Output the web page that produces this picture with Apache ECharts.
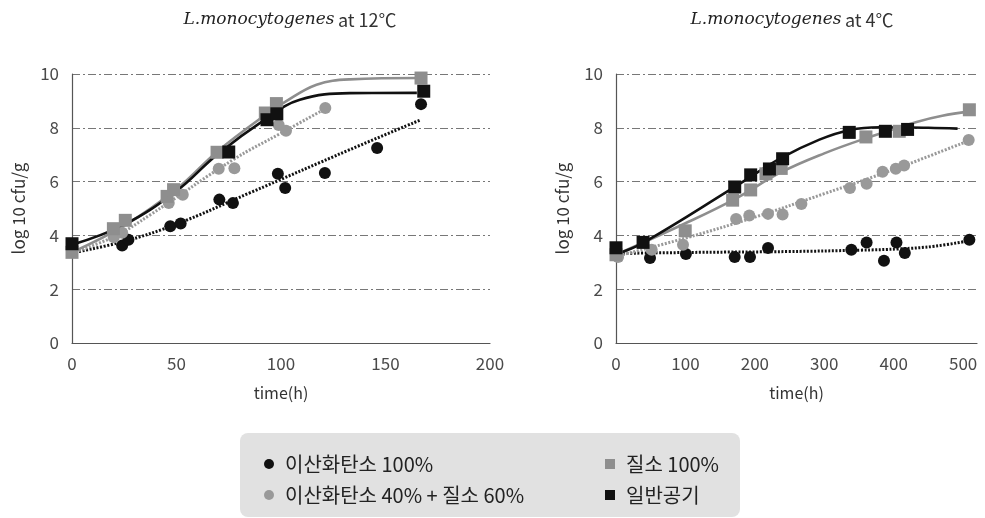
<!DOCTYPE html>
<html><head><meta charset="utf-8">
<script src="https://cdn.jsdelivr.net/npm/echarts@6/dist/echarts.min.js"></script>
<style>html,body{margin:0;padding:0;background:#fff}#c{width:985px;height:518px}</style>
</head><body><div id="c"></div><script>
// legend / series names
const nameCO2 = '이산화탄소 100%';
const nameMix = '이산화탄소 40% + 질소 60%';
const nameN2 = '질소 100%';
const nameAir = '일반공기';

// ---- 12 °C : measured points ----
const co2_12_t = [24, 27, 47, 52, 70.5, 77, 98.5, 102, 121, 146, 167];
const co2_12_v = [3.62, 3.84, 4.34, 4.44, 5.33, 5.2, 6.29, 5.76, 6.32, 7.25, 8.88];
const mix_12_t = [20, 24, 46.3, 53, 70.2, 77.7, 98.9, 102.4, 121.2];
const mix_12_v = [3.93, 4.1, 5.2, 5.51, 6.48, 6.5, 8.1, 7.89, 8.74];
const n2_12_t = [0, 19.8, 25.5, 45.5, 48.6, 69.4, 92.5, 97.8, 167];
const n2_12_v = [3.37, 4.25, 4.56, 5.45, 5.7, 7.09, 8.55, 8.9, 9.85];
const air_12_t = [0, 75, 93.3, 98, 168.3];
const air_12_v = [3.69, 7.1, 8.3, 8.52, 9.36];
// ---- 12 °C : fitted curves ----
const co2Fit_12_t = [0, 25, 50, 85, 133, 167];
const co2Fit_12_v = [3.35, 3.78, 4.42, 5.58, 7.19, 8.3];
const mixFit_12_t = [0, 20, 37.5, 77, 100, 121];
const mixFit_12_v = [3.35, 3.95, 4.77, 6.81, 7.8, 8.7];
const n2Fit_12_t = [0, 25, 50, 70, 95, 101, 117, 133, 167];
const n2Fit_12_v = [3.37, 4.36, 5.72, 7.15, 8.62, 8.92, 9.6, 9.8, 9.85];
const airFit_12_t = [0, 25, 50, 69.4, 93.3, 109, 133, 165];
const airFit_12_v = [3.65, 4.4, 5.65, 7.0, 8.36, 9.04, 9.29, 9.3];

// ---- 4 °C : measured points ----
const co2_4_t = [49, 100.7, 171, 193, 219, 339, 361, 386, 404, 416, 509];
const co2_4_v = [3.16, 3.31, 3.2, 3.2, 3.53, 3.47, 3.74, 3.06, 3.74, 3.35, 3.84];
const mix_4_t = [3, 51.4, 96.5, 173, 192, 219, 240, 267, 337, 361, 384, 403, 415, 508];
const mix_4_v = [3.2, 3.47, 3.65, 4.61, 4.74, 4.8, 4.78, 5.17, 5.76, 5.92, 6.37, 6.48, 6.6, 7.55];
const n2_4_t = [0, 99.7, 168, 194, 216, 238, 360, 408, 509];
const n2_4_v = [3.28, 4.17, 5.31, 5.69, 6.29, 6.49, 7.66, 7.87, 8.67];
const air_4_t = [0, 39, 171, 194, 221, 240, 336, 388, 420];
const air_4_v = [3.54, 3.74, 5.8, 6.25, 6.47, 6.85, 7.83, 7.87, 7.94];
// ---- 4 °C : fitted curves ----
const co2Fit_4_t = [0, 120, 250, 350, 409, 460, 508];
const co2Fit_4_v = [3.33, 3.37, 3.4, 3.45, 3.5, 3.6, 3.8];
const mixFit_4_t = [0, 100, 200, 300, 400, 508];
const mixFit_4_v = [3.22, 3.9, 4.68, 5.55, 6.45, 7.52];
const n2Fit_4_t = [0, 100, 171, 238, 300, 361, 433, 470, 508];
const n2Fit_4_v = [3.28, 4.45, 5.35, 6.35, 7.05, 7.62, 8.22, 8.45, 8.6];
const airFit_4_t = [0, 39, 171, 238, 293, 337, 380, 450, 492];
const airFit_4_v = [3.3, 3.72, 5.8, 6.88, 7.56, 7.92, 8.02, 8.0, 7.97];

// axis ticks
const yMax = 10, yInterval = 2;
const x12Max = 200, x12Interval = 50;
const x4Max = 520, x4Interval = 100;

const zip = (t, v) => t.map((x, i) => [x, v[i]]);
const BLACK = '#111111', GRAY = '#8e8e8e', GRAYC = '#999999';
const FONT = '"Noto Sans CJK KR", "Noto Sans", sans-serif';

function scatter(name, idx, t, v, color, symbol, size) {
  return { type: 'scatter', name, xAxisIndex: idx, yAxisIndex: idx, data: zip(t, v),
    symbol, symbolSize: size, itemStyle: { color, opacity: 1 }, z: 4, silent: true };
}
function fit(name, idx, t, v, color, dotted) {
  return { type: 'line', name, xAxisIndex: idx, yAxisIndex: idx, data: zip(t, v),
    smooth: 0.4, showSymbol: false, symbol: 'none', z: 3, silent: true,
    lineStyle: { color, width: dotted ? 3 : 2.6, type: dotted ? [2, 1.6] : 'solid' } };
}
function xAxis(idx, max, interval) {
  return { type: 'value', gridIndex: idx, min: 0, max, interval,
    name: 'time(h)', nameLocation: 'middle', nameGap: 42,
    nameTextStyle: { fontFamily: FONT, fontSize: 16, color: '#333' },
    axisLine: { show: true, lineStyle: { color: '#555', width: 1.2 } },
    axisTick: { show: false }, splitLine: { show: false },
    axisLabel: { fontFamily: FONT, fontSize: 17, color: '#4a4a4a', margin: 12, showMaxLabel: max === 200 } };
}
function yAxis(idx) {
  return { type: 'value', gridIndex: idx, min: 0, max: yMax, interval: yInterval,
    name: 'log 10 cfu/g', nameLocation: 'middle', nameGap: 45,
    nameTextStyle: { fontFamily: FONT, fontSize: 17, color: '#333' },
    axisLine: { show: true, lineStyle: { color: '#555', width: 1.2 } },
    axisTick: { show: false },
    splitLine: { show: true, lineStyle: { color: '#777', width: 1, type: [8, 3, 2, 3] } },
    axisLabel: { fontFamily: FONT, fontSize: 17, color: '#4a4a4a', margin: 13 } };
}

const series = [];
[[0, [co2_12_t, co2_12_v], [mix_12_t, mix_12_v], [n2_12_t, n2_12_v], [air_12_t, air_12_v],
  [co2Fit_12_t, co2Fit_12_v], [mixFit_12_t, mixFit_12_v], [n2Fit_12_t, n2Fit_12_v], [airFit_12_t, airFit_12_v]],
 [1, [co2_4_t, co2_4_v], [mix_4_t, mix_4_v], [n2_4_t, n2_4_v], [air_4_t, air_4_v],
  [co2Fit_4_t, co2Fit_4_v], [mixFit_4_t, mixFit_4_v], [n2Fit_4_t, n2Fit_4_v], [airFit_4_t, airFit_4_v]]
].forEach(([i, co2, mix, n2, air, co2f, mixf, n2f, airf]) => {
  series.push(scatter(nameCO2, i, co2[0], co2[1], BLACK, 'circle', 12));
  series.push(scatter(nameMix, i, mix[0], mix[1], GRAYC, 'circle', 12));
  series.push(scatter(nameN2, i, n2[0], n2[1], GRAY, 'rect', 13));
  series.push(scatter(nameAir, i, air[0], air[1], BLACK, 'rect', 13));
  series.push(fit(nameCO2, i, co2f[0], co2f[1], BLACK, true));
  series.push(fit(nameMix, i, mixf[0], mixf[1], GRAYC, true));
  series.push(fit(nameN2, i, n2f[0], n2f[1], GRAY, false));
  series.push(fit(nameAir, i, airf[0], airf[1], BLACK, false));
});

const legendCommon = { orient: 'vertical', itemWidth: 10, itemHeight: 10, itemGap: 11,
  selectedMode: false, textStyle: { fontFamily: FONT, fontSize: 20, color: '#222', padding: [0, 0, 0, 6] } };

const titleRich = {
  i: { fontFamily: '"DejaVu Serif", "Liberation Serif", serif', fontStyle: 'italic', fontSize: 17, fill: '#222' },
  n: { fontFamily: FONT, fontSize: 18, fill: '#333' }
};

const chart = echarts.init(document.getElementById('c'), null, { renderer: 'canvas' });
chart.setOption({
  animation: false,
  backgroundColor: '#fff',
  grid: [
    { left: 72, top: 74, width: 418, height: 269 },
    { left: 616, top: 74, width: 361, height: 269 }
  ],
  xAxis: [xAxis(0, x12Max, x12Interval), xAxis(1, x4Max, x4Interval)],
  yAxis: [yAxis(0), yAxis(1)],
  legend: [
    Object.assign({ left: 259, top: 449, data: [{ name: nameCO2, icon: 'circle' }, { name: nameMix, icon: 'circle' }] }, legendCommon),
    Object.assign({ left: 600, top: 449, data: [{ name: nameN2, icon: 'rect' }, { name: nameAir, icon: 'rect' }] }, legendCommon)
  ],
  graphic: [
    { type: 'rect', z: -10, shape: { x: 240, y: 433, width: 500, height: 84, r: 8 }, style: { fill: '#e1e1e1' } },
    { type: 'text', x: 290, y: 20, style: { text: '{i|L.monocytogenes} {n|at 12℃}', rich: titleRich, align: 'center', verticalAlign: 'middle' } },
    { type: 'text', x: 792, y: 20, style: { text: '{i|L.monocytogenes} {n|at 4℃}', rich: titleRich, align: 'center', verticalAlign: 'middle' } }
  ],
  series
});
</script></body></html>
